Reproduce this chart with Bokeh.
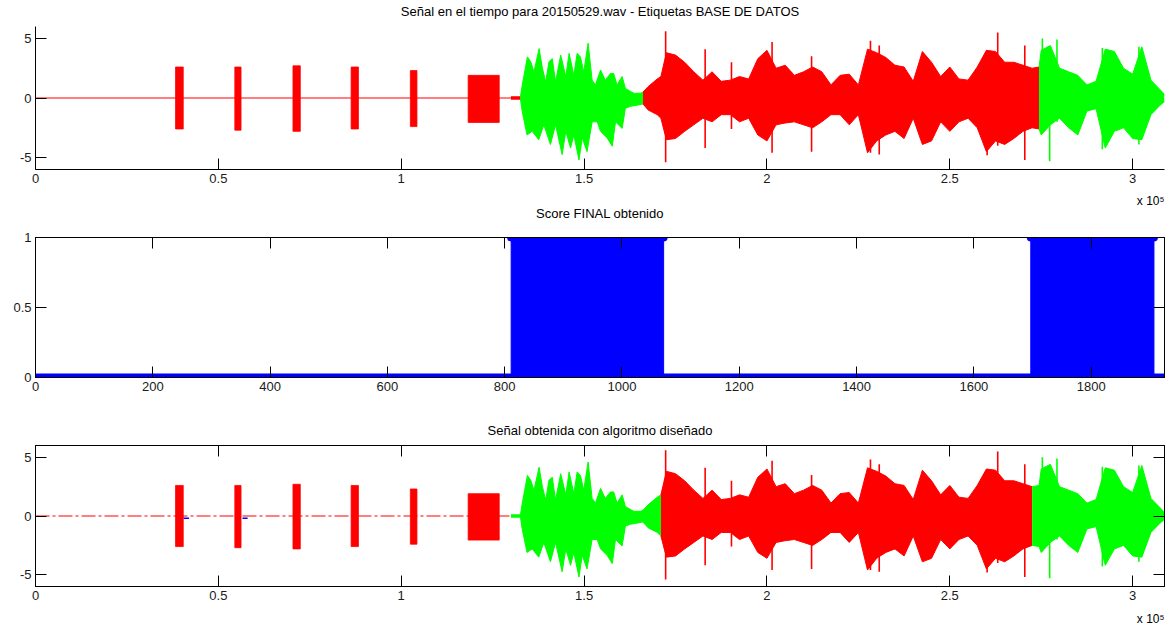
import numpy as np
from bokeh.plotting import figure
from bokeh.models import Range1d, LinearAxis, FixedTicker, Title
from bokeh.layouts import column
from bokeh.embed import file_html
from bokeh.resources import INLINE

FONT = "Liberation Sans"
RED, GREEN, BLUE = "#FF0000", "#00FF00", "#0000FF"

# ---------------- data ----------------
# signal axis in units of 1e5 samples
X_END = 3.087
x_tick_vals = [0, 0.5, 1, 1.5, 2, 2.5, 3]
x_tick_labels = ["0", "0.5", "1", "1.5", "2", "2.5", "3"]
y_tick_vals = [-5, 0, 5]
y_tick_labels = ["-5", "0", "5"]

# short tone bursts (start, end, top, bottom)
burst_start = [0.383, 0.545, 0.704, 0.863, 1.025, 1.183]
burst_end = [0.404, 0.562, 0.724, 0.883, 1.043, 1.268]
burst_top = [2.6, 2.6, 2.7, 2.6, 2.3, 1.9]
burst_bot = [-2.6, -2.7, -2.8, -2.6, -2.4, -2.05]

# upper envelope of the audio signal
up_x = [1.300, 1.326, 1.331, 1.345, 1.354, 1.363, 1.377, 1.386, 1.395, 1.404,
        1.413, 1.422, 1.436, 1.450, 1.459, 1.472, 1.481, 1.490, 1.499, 1.511,
        1.522, 1.531, 1.545, 1.558, 1.572, 1.581, 1.590, 1.604, 1.613, 1.627,
        1.636, 1.654, 1.661, 1.675, 1.70, 1.71, 1.725, 1.75, 1.775, 1.80,
        1.825, 1.85, 1.875, 1.90, 1.925, 1.95, 1.975, 2.00, 2.025, 2.05,
        2.075, 2.10, 2.125, 2.15, 2.175, 2.20, 2.225, 2.25, 2.275, 2.30,
        2.325, 2.35, 2.375, 2.40, 2.425, 2.45, 2.475, 2.50, 2.525, 2.55,
        2.575, 2.60, 2.625, 2.65, 2.675, 2.70, 2.725, 2.744, 2.75, 2.775,
        2.80, 2.825, 2.85, 2.875, 2.90, 2.925, 2.95, 2.975, 3.00, 3.025,
        3.05, 3.075, 3.087]
up_y = [0.1, 0.1, 1.1, 3.45, 3.05, 2.2, 4.15, 2.5, 1.35, 3.05,
        3.3, 1.35, 3.6, 1.8, 3.75, 1.9, 3.75, 3.45, 2.2, 4.6,
        1.5, 1.1, 2.35, 1.5, 2.05, 2.05, 1.1, 1.8, 0.8, 0.55,
        0.4, 0.4, 0.5, 0.95, 1.6, 1.8, 3.8, 3.6, 3.0, 2.2,
        1.5, 2.2, 1.4, 1.5, 1.8, 1.6, 3.3, 4.0, 2.5, 2.75,
        1.9, 2.2, 2.6, 2.2, 1.1, 1.9, 2.0, 1.1, 4.1, 3.8,
        3.4, 2.75, 2.6, 1.4, 3.9, 3.0, 1.8, 2.6, 1.6, 1.5,
        2.6, 4.0, 3.9, 3.0, 3.0, 2.75, 2.5, 2.6, 4.0, 4.4,
        2.5, 2.2, 1.9, 1.1, 1.4, 4.1, 3.9, 2.5, 2.0, 4.3,
        1.5, 0.7, 0.3]

# lower envelope of the audio signal
lo_x = [1.300, 1.326, 1.331, 1.344, 1.358, 1.376, 1.390, 1.408, 1.422, 1.440,
        1.450, 1.463, 1.472, 1.486, 1.495, 1.508, 1.522, 1.536, 1.545, 1.563,
        1.577, 1.586, 1.604, 1.613, 1.627, 1.645, 1.661, 1.675, 1.70, 1.71,
        1.725, 1.75, 1.775, 1.80, 1.825, 1.85, 1.875, 1.90, 1.925, 1.95,
        1.975, 2.00, 2.025, 2.05, 2.075, 2.10, 2.125, 2.15, 2.175, 2.20,
        2.225, 2.25, 2.275, 2.30, 2.325, 2.35, 2.375, 2.40, 2.425, 2.45,
        2.475, 2.50, 2.525, 2.55, 2.575, 2.60, 2.625, 2.65, 2.675, 2.70,
        2.725, 2.744, 2.75, 2.775, 2.80, 2.825, 2.85, 2.875, 2.90, 2.925,
        2.95, 2.975, 3.00, 3.025, 3.05, 3.075, 3.087]
lo_y = [-0.1, -0.1, -1.15, -3.1, -2.8, -3.5, -2.25, -3.9, -2.25, -4.75,
        -2.8, -4.2, -3.1, -5.2, -3.35, -4.5, -2.0, -2.0, -2.8, -3.35,
        -4.05, -2.0, -2.55, -0.85, -0.7, -0.6, -0.5, -1.0, -1.4, -1.7,
        -3.5, -3.4, -2.8, -2.25, -1.7, -2.0, -1.4, -1.4, -2.0, -1.7,
        -3.1, -3.6, -2.25, -2.1, -2.0, -2.25, -2.5, -2.0, -1.4, -1.4,
        -2.25, -1.4, -4.6, -3.6, -3.1, -2.8, -3.4, -1.7, -3.9, -3.6,
        -2.0, -2.8, -2.0, -1.7, -2.5, -4.5, -3.6, -3.9, -3.4, -2.8,
        -2.5, -2.6, -3.1, -2.25, -1.7, -2.5, -3.1, -1.1, -0.9, -4.2,
        -2.8, -2.5, -3.4, -3.5, -1.4, -0.6, -0.3]

# isolated peaks of the signal
spike_x = [1.723, 1.831, 1.903, 2.014, 2.122, 2.283, 2.307, 2.602, 2.631, 2.705,
           2.753, 2.773, 2.793, 2.917, 3.017]
spike_top = [5.6, 4.1, 3.0, 4.7, 3.5, 4.8, 4.4, 4.0, 5.5, 4.4,
             5.0, 3.5, 4.9, 4.2, 4.3]
spike_bot = [-5.4, -4.2, -2.6, -4.6, -4.5, -4.6, -4.75, -4.8, -4.0, -5.2,
             -3.0, -5.3, -2.0, -4.3, -3.9]

# labels (database) for top plot, algorithm output for bottom plot
db_start = [0.0, 1.326, 1.661, 2.744]
db_end = [1.326, 1.661, 2.744, X_END]
db_color = [RED, GREEN, RED, GREEN]
alg_start = [0.0, 1.300, 1.710, 2.725]
alg_end = [1.300, 1.710, 2.725, X_END]
alg_color = [RED, GREEN, RED, GREEN]
# small blue pieces in the algorithm output
blue_x0 = [0.405, 0.566]
blue_x1 = [0.420, 0.580]
blue_y = [-0.2, -0.2]

# final score (frame index)
S_END = 1925
score_start = [0, 811, 1071, 1697, 1907]
score_end = [811, 1071, 1697, 1907, 1925]
score_value = [0, 1, 0, 1, 0]
s_tick_vals = [0, 200, 400, 600, 800, 1000, 1200, 1400, 1600, 1800]
s_tick_labels = [str(v) for v in s_tick_vals]
sy_tick_vals = [0, 0.5, 1]
sy_tick_labels = ["0", "0.5", "1"]

titles = ["Señal en el tiempo para 20150529.wav - Etiquetas BASE DE DATOS",
          "Score FINAL obtenido",
          "Señal obtenida con algoritmo diseñado"]
exponent_text = "x 10\u2075"


# ---------------- helpers ----------------
def style_axis(ax, ticks, labels, show_labels=True):
    ax.ticker = FixedTicker(ticks=ticks)
    ax.major_label_overrides = {float(t): l for t, l in zip(ticks, labels)}
    ax.axis_line_color = "black"
    ax.axis_line_width = 1
    ax.major_tick_line_color = "black"
    ax.major_tick_in = 11
    ax.major_tick_out = 0
    ax.minor_tick_line_color = None
    ax.major_label_text_font = FONT
    if show_labels:
        ax.major_label_text_color = "#1a1a1a"
        ax.major_label_text_font_size = "13px"
        ax.major_label_standoff = 4
    else:
        ax.major_label_text_color = None
        ax.major_label_text_font_size = "1px"
        ax.major_label_standoff = 0


def base_fig(frame_h, top, bottom, xr, yr, title, standoff, margin=(0, 0, 0, 0)):
    p = figure(frame_width=1129, frame_height=frame_h,
               min_border_left=35, min_border_right=8,
               min_border_top=top, min_border_bottom=bottom,
               x_range=Range1d(*xr), y_range=Range1d(*yr),
               output_backend="svg", toolbar_location=None,
               background_fill_color="white", border_fill_color=None,
               margin=margin)
    p.grid.visible = False
    p.title.text = title
    p.title.align = "center"
    p.title.text_font = FONT
    p.title.text_font_size = "13px"
    p.title.text_font_style = "normal"
    p.title.text_color = "black"
    p.title.standoff = standoff
    return p


def exp_title(p, standoff):
    t = Title(text=exponent_text, align="right", text_font=FONT,
              text_font_size="12px", text_font_style="normal",
              text_color="black", standoff=standoff)
    p.add_layout(t, "below")


def seg_color_of(x, seg_start, seg_end, seg_color):
    c = seg_color[-1]
    for s, e, cc in zip(seg_start, seg_end, seg_color):
        if s <= x < e:
            c = cc
    return c


def draw_signal(p, seg_start, seg_end, seg_color, dashed_base=False):
    ux, uy = np.array(up_x), np.array(up_y)
    lx, ly = np.array(lo_x), np.array(lo_y)
    # baseline of the quiet part
    p.line([0, seg_end[0]], [0, 0], color=seg_color[0], line_width=1.2,
           line_dash="14 3 3 3" if dashed_base else "solid")
    p.quad(left=burst_start, right=burst_end, top=burst_top, bottom=burst_bot,
           fill_color=RED, line_color=RED, line_width=0.8)
    for s, e, c in zip(seg_start, seg_end, seg_color):
        m = (ux >= s - 1e-9) & (ux <= e + 1e-9)
        if m.sum() >= 2:
            p.varea(x=ux[m], y1=np.zeros(m.sum()), y2=uy[m], fill_color=c)
            p.line(ux[m], uy[m], color=c, line_width=1)
        m = (lx >= s - 1e-9) & (lx <= e + 1e-9)
        if m.sum() >= 2:
            p.varea(x=lx[m], y1=ly[m], y2=np.zeros(m.sum()), fill_color=c)
            p.line(lx[m], ly[m], color=c, line_width=1)
    cols = [seg_color_of(sx, seg_start, seg_end, seg_color) for sx in spike_x]
    p.segment(x0=spike_x, x1=spike_x, y0=spike_bot, y1=spike_top, color=cols,
              line_width=1.6)


# ---------------- figure 1 ----------------
p1 = base_fig(143, 32, 52, (0, X_END), (-6, 6), titles[0], 15, margin=(-6, 0, 0, 0))
p1.outline_line_color = None
style_axis(p1.xaxis[0], x_tick_vals, x_tick_labels)
style_axis(p1.yaxis[0], y_tick_vals, y_tick_labels)
draw_signal(p1, db_start, db_end, db_color)
exp_title(p1, 13)

# ---------------- figure 2 ----------------
p2 = base_fig(140, 56, 25, (0, S_END), (0, 1), titles[1], 34, margin=(-40, 0, 0, 0))
p2.outline_line_color = "black"
style_axis(p2.xaxis[0], s_tick_vals, s_tick_labels)
style_axis(p2.yaxis[0], sy_tick_vals, sy_tick_labels)
ax_t = LinearAxis()
style_axis(ax_t, s_tick_vals, s_tick_labels, False)
p2.add_layout(ax_t, "above")
ax_r = LinearAxis()
style_axis(ax_r, sy_tick_vals, sy_tick_labels, False)
p2.add_layout(ax_r, "right")
for s, e, v in zip(score_start, score_end, score_value):
    if v == 1:
        p2.quad(left=s, right=e, bottom=0, top=1, fill_color=BLUE, line_color=BLUE)
    p2.line([s, e], [v, v], color=BLUE, line_width=8, line_cap="round")

# ---------------- figure 3 ----------------
p3 = base_fig(141, 43, 50, (0, X_END), (-6, 6), titles[2], 16)
p3.outline_line_color = "black"
style_axis(p3.xaxis[0], x_tick_vals, x_tick_labels)
style_axis(p3.yaxis[0], y_tick_vals, y_tick_labels)
ax_t3 = LinearAxis()
style_axis(ax_t3, x_tick_vals, x_tick_labels, False)
p3.add_layout(ax_t3, "above")
ax_r3 = LinearAxis()
style_axis(ax_r3, y_tick_vals, y_tick_labels, False)
p3.add_layout(ax_r3, "right")
draw_signal(p3, alg_start, alg_end, alg_color, dashed_base=True)
p3.segment(x0=blue_x0, x1=blue_x1, y0=blue_y, y1=blue_y, color=BLUE, line_width=1.5)
exp_title(p3, 15)

layout = column(p1, p2, p3, spacing=0)
open("out.html", "w").write(file_html(layout, INLINE))
